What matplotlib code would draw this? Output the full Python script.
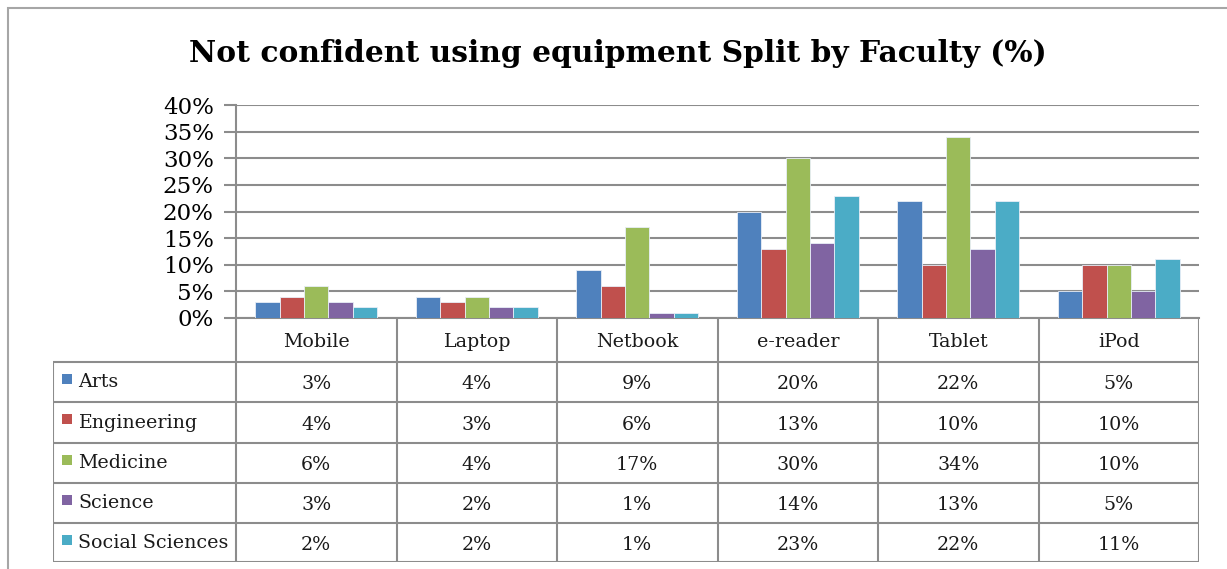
import matplotlib
matplotlib.use("Agg")
import matplotlib.pyplot as plt
from matplotlib.patches import Rectangle

categories = ["Mobile", "Laptop", "Netbook", "e-reader", "Tablet", "iPod"]
series_names = ["Arts", "Engineering", "Medicine", "Science", "Social Sciences"]
arts = [3, 4, 9, 20, 22, 5]
engineering = [4, 3, 6, 13, 10, 10]
medicine = [6, 4, 17, 30, 34, 10]
science = [3, 2, 1, 14, 13, 5]
social_sciences = [2, 2, 1, 23, 22, 11]
series_values = [arts, engineering, medicine, science, social_sciences]
colors = ["#4F81BD", "#C0504D", "#9BBB59", "#8064A2", "#4BACC6"]
yticks = [0, 5, 10, 15, 20, 25, 30, 35, 40]
title = "Not confident using equipment Split by Faculty (%)"

W, H = 1227, 569
fig = plt.figure(figsize=(W / 100, H / 100), dpi=100)
FONT = "DejaVu Serif"
GRID = "#8c8c8c"

def fx(px):
    return px / W

def fy(py):
    return 1 - py / H

# outer frame
fig.add_artist(Rectangle((fx(8), fy(600)), fx(1240) - fx(8), fy(8) - fy(600),
                         transform=fig.transFigure, fill=False,
                         edgecolor="#a6a6a6", linewidth=1.5))

fig.text(fx(618), fy(54), title, ha="center", va="center",
         fontsize=21.4, fontweight="bold", family=FONT, color="#000000")

# plot area
L, R, T, B = 236, 1199, 105, 318
ax = fig.add_axes([fx(L), fy(B), fx(R) - fx(L), fy(T) - fy(B)])
n = len(categories)
bw = 0.152
for i, (name, vals, c) in enumerate(zip(series_names, series_values, colors)):
    xs = [k + (i - 2) * bw for k in range(n)]
    ax.bar(xs, vals, width=bw, color=c, edgecolor="#e8eef7", linewidth=0.6,
           zorder=3)
ax.set_xlim(-0.5, n - 0.5)
ax.set_ylim(0, 40)
ax.set_yticks(yticks)
ax.set_yticklabels([f"{v}%" for v in yticks], family=FONT, fontsize=16.5)
ax.yaxis.grid(True, color=GRID, linewidth=1.5, zorder=0)
ax.set_axisbelow(True)
ax.set_xticks([])
for s in ["top", "right"]:
    ax.spines[s].set_visible(False)
ax.spines["left"].set_color(GRID)
ax.spines["left"].set_linewidth(1.5)
ax.spines["bottom"].set_color(GRID)
ax.spines["bottom"].set_linewidth(1.5)
ax.tick_params(axis="y", length=9, color=GRID, width=1.5, pad=7)

# data table below
tab = fig.add_axes([fx(53), fy(562), fx(R) - fx(53), fy(B) - fy(562)])
tab.set_xlim(53, R)
tab.set_ylim(562, B)
tab.axis("off")
colw = (R - L) / n
row_edges = [B, 362, 402, 443, 483, 523, 562]
lw = 1.5
for k in range(n + 1):
    x = L + k * colw
    tab.plot([x, x], [B, 562], color=GRID, lw=lw, solid_capstyle="butt")
tab.plot([53, 53], [362, 562], color=GRID, lw=lw, solid_capstyle="butt")
for y in row_edges[1:]:
    tab.plot([53, R], [y, y], color=GRID, lw=lw, solid_capstyle="butt")
for k, cat in enumerate(categories):
    tab.text(L + (k + 0.5) * colw, (B + 362) / 2 + 2, cat, ha="center",
             va="center", family=FONT, fontsize=13.7, color="#1a1a1a")
for r, (name, vals, c) in enumerate(zip(series_names, series_values, colors)):
    y0, y1 = row_edges[r + 1], row_edges[r + 2]
    yc = (y0 + y1) / 2
    tab.add_patch(Rectangle((62, y0 + 12), 10, 10, facecolor=c,
                            edgecolor="none"))
    tab.text(78, yc, name, ha="left", va="center", family=FONT,
             fontsize=13.7, color="#1a1a1a")
    for k, v in enumerate(vals):
        tab.text(L + (k + 0.5) * colw, yc + 2, f"{v}%", ha="center",
                 va="center", family=FONT, fontsize=13.7, color="#1a1a1a")

fig.savefig("out.png", dpi=100, facecolor="white")
